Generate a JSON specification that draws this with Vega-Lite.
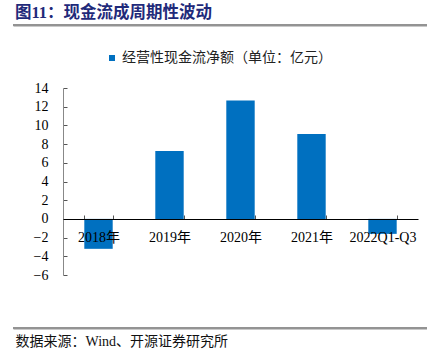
{
  "$schema": "https://vega.github.io/schema/vega-lite/v6.json",
  "width": 414,
  "height": 303,
  "padding": {"left": 13, "right": 0, "top": 25, "bottom": 35},
  "autosize": {"type": "none"},
  "config": {
    "view": {"stroke": null},
    "axis": {"grid": false},
    "font": "Liberation Serif, Noto Sans CJK SC"
  },
  "title": {
    "text": "图11：现金流成周期性波动",
    "anchor": "start",
    "frame": "group",
    "font": "Liberation Serif, Noto Sans CJK SC",
    "fontSize": 16.5,
    "fontWeight": "bold",
    "color": "#1F2A7A",
    "offset": 3,
    "dx": 2
  },
  "resolve": {"scale": {"y": "independent"}, "axis": {"y": "independent"}},
  "layer": [
    {
      "data": {
        "values": [
          {"year": "2018年", "value": -3.2, "series": "经营性现金流净额（单位：亿元）"},
          {"year": "2019年", "value": 7.25, "series": "经营性现金流净额（单位：亿元）"},
          {"year": "2020年", "value": 12.67, "series": "经营性现金流净额（单位：亿元）"},
          {"year": "2021年", "value": 9.08, "series": "经营性现金流净额（单位：亿元）"},
          {"year": "2022Q1-Q3", "value": -1.6, "series": "经营性现金流净额（单位：亿元）"}
        ]
      },
      "mark": {"type": "bar"},
      "encoding": {
        "x": {
          "field": "year",
          "type": "nominal",
          "sort": null,
          "scale": {"paddingInner": 0.6, "paddingOuter": 0.3, "range": [50, 405]},
          "axis": {
            "title": "数据来源：Wind、开源证券研究所",
            "titleAnchor": "start",
            "titleAlign": "left",
            "titleX": 2,
            "titleY": 122,
            "titleBaseline": "middle",
            "titleFont": "Liberation Serif, Noto Sans CJK SC",
            "titleFontSize": 14,
            "titleFontWeight": "normal",
            "titleColor": "#111111",
            "orient": "bottom",
            "offset": -109,
            "labelAngle": 0,
            "tickBand": "extent",
            "tickSize": -4,
            "tickColor": "#555555",
            "domainColor": "#000000",
            "labelPadding": 15,
            "labelFontSize": 14,
            "labelColor": "#000000",
            "labelFont": "Liberation Serif, Noto Sans CJK SC",
            "zindex": 1
          }
        },
        "y": {
          "field": "value",
          "type": "quantitative",
          "scale": {"domain": [-6, 14], "nice": false, "zero": false, "range": [250, 63]},
          "axis": {
            "values": [-6, -4, -2, 0, 2, 4, 6, 8, 10, 12, 14],
            "title": null,
            "offset": -50,
            "domainColor": "#888888",
            "tickColor": "#555555",
            "tickSize": -4,
            "labelPadding": 19,
            "labelFontSize": 14,
            "labelColor": "#000000",
            "labelFont": "Liberation Serif"
          }
        },
        "color": {
          "field": "series",
          "type": "nominal",
          "scale": {"range": ["#0070C0"]},
          "legend": {
            "orient": "none",
            "legendX": 92,
            "legendY": 26,
            "title": null,
            "symbolType": "square",
            "symbolSize": 36,
            "labelFontSize": 14,
            "labelLimit": 400,
            "labelFont": "Noto Sans CJK SC",
            "labelColor": "#222222",
            "labelOffset": 3
          }
        }
      }
    },
    {
      "data": {"values": [{"edge": "top"}, {"edge": "bottom"}]},
      "mark": {"type": "rule", "color": "#939393", "strokeWidth": 2},
      "encoding": {
        "y": {
          "field": "edge",
          "type": "nominal",
          "scale": {"type": "point", "padding": 0, "domain": ["top", "bottom"]},
          "axis": {
            "orient": "right",
            "title": null,
            "grid": true,
            "gridColor": "#939393",
            "gridWidth": 2,
            "gridOpacity": 1,
            "domain": false,
            "ticks": false,
            "labels": false
          }
        }
      }
    }
  ]
}
